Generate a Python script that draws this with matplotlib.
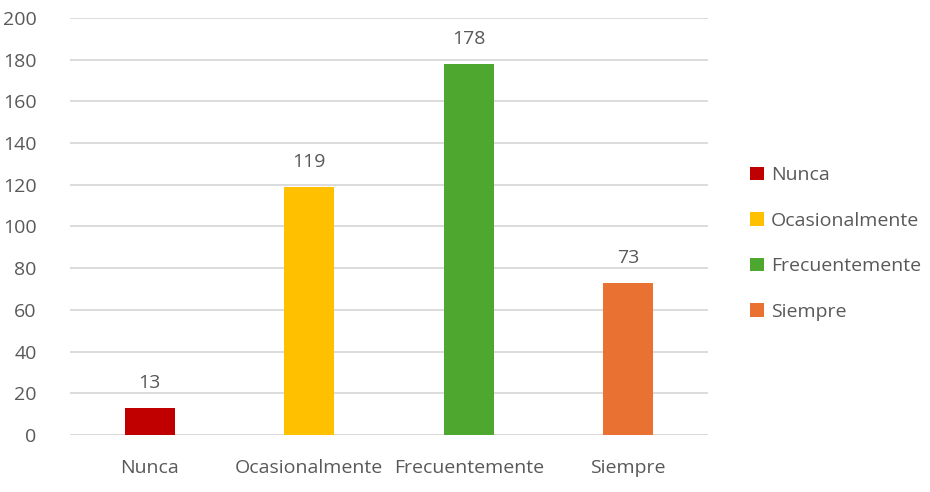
import matplotlib.pyplot as plt
from matplotlib.patches import Patch

categories = ["Nunca", "Ocasionalmente", "Frecuentemente", "Siempre"]
values = [13, 119, 178, 73]
colors = ["#C00000", "#FFC000", "#4EA72E", "#E97132"]
y_ticks = [0, 20, 40, 60, 80, 100, 120, 140, 160, 180, 200]

plt.rcParams['font.family'] = ['Open Sans', 'DejaVu Sans']
text_color = "#595959"
fs = 14

fig = plt.figure(figsize=(9.3, 4.92), dpi=100)
ax = fig.add_axes([0.0753, 0.1159, 0.686, 0.8476])

x = list(range(len(categories)))
ax.bar(x, values, width=0.315, color=colors, zorder=3)
for xi, v in zip(x, values):
    ax.text(xi, v + 7.5, str(v), ha='center', va='bottom', fontsize=fs, color=text_color)

ax.set_xlim(-0.5, len(categories) - 0.5)
ax.set_ylim(0, 200)
ax.set_yticks(y_ticks)
ax.set_xticks(x)
ax.set_xticklabels(categories)
ax.grid(axis='y', color='#D9D9D9', linewidth=1.3, zorder=0)
ax.set_axisbelow(True)
for s in ax.spines.values():
    s.set_visible(False)
ax.tick_params(axis='both', length=0, colors=text_color, labelsize=fs)
ax.tick_params(axis='y', pad=24)
ax.tick_params(axis='x', pad=17)
ax.axhline(0, color='#D9D9D9', linewidth=1.3, zorder=2)

handles = [Patch(facecolor=c, label=l) for c, l in zip(colors, categories)]
fig.legend(handles=handles, loc='center left', bbox_to_anchor=(0.788, 0.505),
           frameon=False, fontsize=fs, labelcolor=text_color,
           handlelength=0.7, handleheight=0.7, handletextpad=0.35,
           labelspacing=1.42)

fig.savefig("out.png", dpi=100)
